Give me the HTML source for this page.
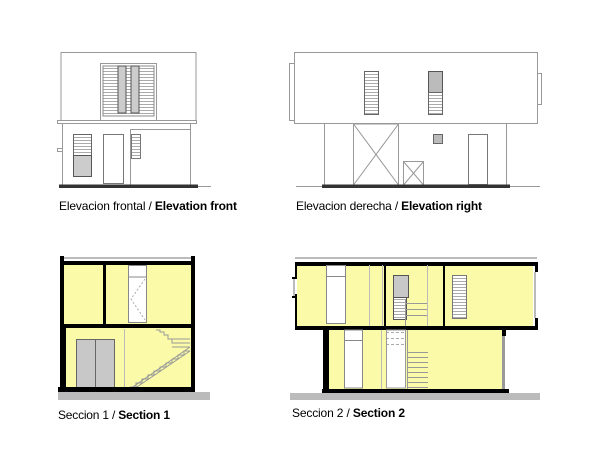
<!DOCTYPE html>
<html><head><meta charset="utf-8"><style>
html,body{margin:0;padding:0;background:#fff;}
svg{display:block;}
text{font-family:"Liberation Sans",Arial,sans-serif;font-size:12px;fill:#000;}
</style></head><body>
<svg width="600" height="450" viewBox="0 0 600 450" xmlns="http://www.w3.org/2000/svg">
<defs>
<pattern id="lv" width="4" height="3" patternUnits="userSpaceOnUse"><rect width="4" height="3" fill="#fff"/><rect y="2" width="4" height="1" fill="#aaa"/></pattern>
<pattern id="dots" width="5" height="6" patternUnits="userSpaceOnUse"><rect width="5" height="6" fill="#fff"/><rect x="1" y="2" width="3" height="1" fill="#aaa"/></pattern>
</defs>
<!-- ELEVATION FRONT -->
<g fill="none" stroke="#999" stroke-width="1">
<rect x="61" y="52.5" width="135" height="68"/>
<rect x="57.5" y="120.5" width="139" height="3"/>
<rect x="62.5" y="123.5" width="128" height="62"/>
<rect x="100.5" y="63.5" width="56" height="57"/>
<rect x="130.5" y="129.5" width="60" height="56"/>
<line x1="198" y1="186.5" x2="211" y2="186.5"/>
<rect x="57.5" y="148.5" width="5" height="3"/>
</g>
<rect x="103" y="66" width="51" height="50" fill="url(#lv)" stroke="#888"/>
<rect x="118" y="66" width="8" height="47" fill="#ccc" stroke="#555"/>
<rect x="131" y="66" width="8" height="47" fill="#ccc" stroke="#555"/>
<rect x="73.5" y="134.5" width="18" height="21" fill="url(#lv)" stroke="#666"/>
<rect x="73.5" y="155.5" width="18" height="21" fill="#ccc" stroke="#555"/>
<rect x="103.5" y="134.5" width="20" height="49" fill="#fff" stroke="#777"/>
<rect x="131.5" y="134.5" width="9" height="24" fill="url(#lv)" stroke="#777"/>
<rect x="59" y="184.5" width="139" height="3.5" fill="#333"/>
<text x="59" y="210" textLength="178">Elevacion frontal / <tspan font-weight="bold">Elevation front</tspan></text>

<!-- ELEVATION RIGHT -->
<g fill="none" stroke="#999" stroke-width="1">
<rect x="294.5" y="52.5" width="243" height="71"/>
<rect x="289.5" y="63.5" width="5" height="57"/>
<rect x="537.5" y="73.5" width="4" height="31"/>
<line x1="324.5" y1="124" x2="324.5" y2="185"/>
<line x1="506.5" y1="124" x2="506.5" y2="185"/>
<rect x="353.5" y="124" width="45" height="61"/>
<line x1="353.5" y1="124" x2="398.5" y2="185"/>
<line x1="398.5" y1="124" x2="353.5" y2="185"/>
<rect x="403.5" y="161.5" width="20" height="23.5"/>
<line x1="403.5" y1="161.5" x2="423.5" y2="185"/>
<line x1="423.5" y1="161.5" x2="403.5" y2="185"/>
<line x1="296" y1="186.5" x2="540" y2="186.5"/>
</g>
<rect x="364.5" y="71.5" width="14" height="43" fill="url(#lv)" stroke="#666"/>
<rect x="428.5" y="71.5" width="14" height="21" fill="#bbb" stroke="#555"/>
<rect x="428.5" y="92.5" width="14" height="22" fill="url(#lv)" stroke="#666"/>
<rect x="433.5" y="134.5" width="9" height="9" fill="#bbb" stroke="#666"/>
<rect x="468.5" y="134.5" width="19" height="50" fill="#fff" stroke="#777"/>
<rect x="322" y="184.5" width="188" height="3.5" fill="#333"/>
<text x="296" y="210" textLength="186">Elevacion derecha / <tspan font-weight="bold">Elevation right</tspan></text>

<!-- SECTION 1 -->
<rect x="60" y="257" width="135" height="2" fill="#bbb"/>
<rect x="64" y="265" width="127" height="123" fill="#fafaa8"/>
<rect x="60" y="261" width="35" height="0" fill="#000"/>
<rect x="60" y="261" width="135" height="4" fill="#000"/>
<rect x="60" y="256" width="4" height="72" fill="#000"/>
<rect x="191" y="256" width="4" height="72" fill="#000"/>
<rect x="103" y="265" width="3" height="60" fill="#000"/>
<rect x="60" y="324" width="135" height="4" fill="#000"/>
<rect x="60" y="328" width="6" height="62" fill="#000"/>
<rect x="191" y="328" width="4" height="62" fill="#000"/>
<rect x="128.5" y="265.5" width="18" height="57" fill="#fff" stroke="#888"/>
<line x1="128.5" y1="277" x2="146.5" y2="277" stroke="#888"/>
<polyline points="145,279 131,299 145,320" fill="none" stroke="#aaa" stroke-dasharray="2,2"/>
<rect x="76.5" y="339.5" width="38" height="48" fill="#c8c8c8" stroke="#666"/>
<line x1="95.5" y1="339.5" x2="95.5" y2="388" stroke="#666"/>
<line x1="124.5" y1="329" x2="124.5" y2="388" stroke="#bbb"/>
<polyline points="130,387 136,387 136,383 142,383 142,379 148,379 148,375 154,375 154,371 160,371 160,367 166,367 166,363 172,363 172,359 178,359 178,355 184,355 184,351 190,351" fill="none" stroke="#999"/>
<line x1="130" y1="389" x2="190" y2="347" stroke="#999"/>
<line x1="134" y1="389" x2="190" y2="351" stroke="#999"/>
<polyline points="190,343 172,343 172,339 168,339 168,335 164,335 164,332 160,332 160,330 156,330" fill="none" stroke="#999"/>
<line x1="172" y1="347" x2="190" y2="347" stroke="#999"/>
<line x1="172" y1="339" x2="190" y2="339" stroke="#999"/>
<rect x="58" y="387" width="137" height="5" fill="#000"/>
<rect x="58" y="392" width="152" height="8" fill="#bbb"/>
<text x="58" y="419" textLength="112">Seccion 1 / <tspan font-weight="bold">Section 1</tspan></text>

<!-- SECTION 2 -->
<rect x="295" y="257" width="242" height="2" fill="#bbb"/>
<rect x="297" y="265" width="236" height="61" fill="#fafaa8"/>
<rect x="295" y="262" width="243" height="4" fill="#000"/>
<rect x="295" y="262" width="2" height="16" fill="#000"/>
<rect x="295" y="294" width="2" height="33" fill="#000"/>
<rect x="292" y="277" width="5" height="2" fill="#000"/>
<rect x="292" y="296" width="5" height="2" fill="#000"/>
<rect x="293" y="279" width="2" height="17" fill="#bbb"/>
<rect x="535" y="262" width="3" height="10" fill="#000"/>
<rect x="535" y="318" width="3" height="10" fill="#000"/>
<rect x="534" y="272" width="2" height="46" fill="#bbb"/>
<rect x="384" y="265" width="2" height="61" fill="#000"/>
<rect x="443" y="265" width="2" height="61" fill="#000"/>
<rect x="326.5" y="265.5" width="19" height="58" fill="#fff" stroke="#888"/>
<line x1="326.5" y1="276.5" x2="345.5" y2="276.5" stroke="#888"/>
<line x1="369.5" y1="265" x2="369.5" y2="326" stroke="#bbb"/>
<line x1="382.5" y1="265" x2="382.5" y2="326" stroke="#bbb"/>
<rect x="393.5" y="275.5" width="15" height="22" fill="#c8c8c8" stroke="#555"/>
<rect x="393.5" y="297.5" width="13" height="22" fill="url(#lv)" stroke="#555"/>
<g stroke="#999"><line x1="405" y1="303.5" x2="428" y2="303.5"/><line x1="405" y1="309.5" x2="428" y2="309.5"/><line x1="405" y1="315.5" x2="428" y2="315.5"/><line x1="405.5" y1="300" x2="405.5" y2="326"/></g>
<line x1="427.5" y1="265" x2="427.5" y2="390" stroke="#bbb"/>
<rect x="452.5" y="275.5" width="14" height="43" fill="url(#lv)" stroke="#777"/>
<rect x="295" y="326" width="243" height="4" fill="#000"/>
<rect x="329" y="330" width="173" height="59" fill="#fafaa8"/>
<rect x="323" y="330" width="6" height="61" fill="#000"/>
<rect x="502" y="330" width="4" height="6" fill="#000"/>
<rect x="502" y="336" width="3" height="54" fill="#999"/>
<rect x="344.5" y="330" width="18" height="58" fill="#fff" stroke="#888"/>
<line x1="344.5" y1="340.5" x2="362.5" y2="340.5" stroke="#888"/>
<line x1="381.5" y1="330" x2="381.5" y2="389" stroke="#bbb"/>
<rect x="386.5" y="330" width="19" height="58" fill="#fff" stroke="#999"/>
<rect x="387" y="331" width="18" height="19" fill="url(#dots)"/>
<g stroke="#999"><line x1="407" y1="352.5" x2="428" y2="352.5"/><line x1="407" y1="357.5" x2="428" y2="357.5"/><line x1="407" y1="362.5" x2="428" y2="362.5"/><line x1="407" y1="367.5" x2="428" y2="367.5"/><line x1="407" y1="372.5" x2="428" y2="372.5"/><line x1="407" y1="377.5" x2="428" y2="377.5"/><line x1="407" y1="382.5" x2="428" y2="382.5"/><line x1="407" y1="387.5" x2="428" y2="387.5"/><line x1="407.5" y1="330" x2="407.5" y2="389"/></g>
<rect x="322" y="389" width="187" height="4" fill="#000"/>
<rect x="290" y="393" width="250" height="7" fill="#bbb"/>
<text x="292" y="417" textLength="113">Seccion 2 / <tspan font-weight="bold">Section 2</tspan></text>
</svg>
</body></html>
